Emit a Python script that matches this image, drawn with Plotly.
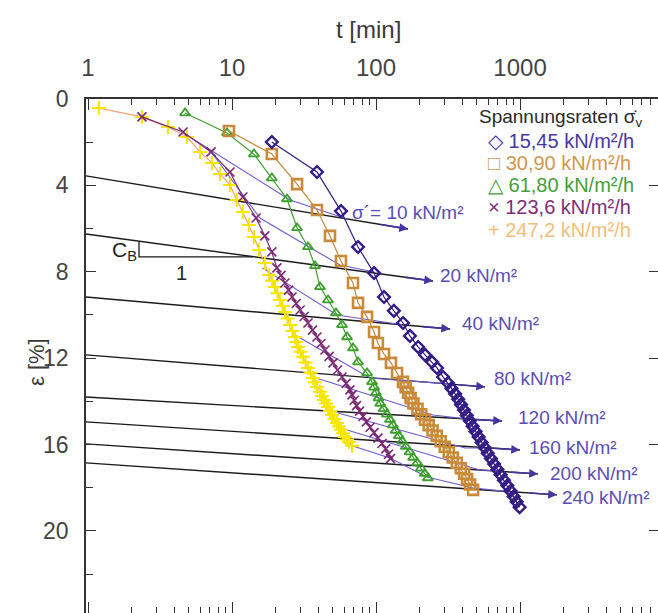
import math
import plotly.graph_objects as go

# ---------------- data ----------------
# 15,45 kN/m²/h  (diamonds)
t_1545 = [18.9, 38.9, 57.1, 75, 96.9, 113.6, 133, 154, 172, 196, 219, 245, 265, 292, 316,
          334, 354, 372, 389, 408, 427, 448, 469, 491, 516, 541, 569, 597, 628, 661, 697,
          733, 773, 815, 860, 903, 947, 993]
e_1545 = [1.99, 3.38, 5.19, 6.85, 8.06, 9.17, 9.81, 10.37, 10.97, 11.48, 11.85, 12.18, 12.45,
          12.87, 13.15, 13.4, 13.65, 13.9, 14.15, 14.4, 14.65, 14.9, 15.15, 15.4, 15.65, 15.9,
          16.15, 16.4, 16.65, 16.9, 17.15, 17.4, 17.65, 17.9, 18.15, 18.4, 18.65, 18.9]
# 30,90 kN/m²/h  (squares)
t_3090 = [9.53, 18.9, 28.3, 38.9, 47.9, 57.1, 69.2, 75, 86.6, 96.9, 103, 113.6, 127, 140, 154,
          160.6, 167, 174, 182, 194, 206, 219, 232, 247, 264, 281, 300, 320, 341, 364, 388,
          409, 429, 450, 472]
e_3090 = [1.48, 2.55, 3.94, 5.14, 6.34, 7.5, 8.52, 9.44, 10.09, 10.79, 11.3, 11.81, 12.22,
          12.69, 13.1, 13.35, 13.6, 13.85, 14.1, 14.35, 14.6, 14.85, 15.1, 15.35, 15.6, 15.85,
          16.1, 16.35, 16.6, 16.85, 17.1, 17.35, 17.6, 17.85, 18.1]
# 61,80 kN/m²/h  (triangles)
t_6180 = [4.72, 9.23, 14.2, 18.9, 24.1, 28.3, 33.7, 37.7, 40.8, 46.4, 52.7, 58.1, 62.9, 69.2,
          75, 86.6, 93.8, 97, 100, 104, 107, 113, 119, 125, 131, 137, 144, 152, 161, 171, 181,
          193, 205, 218, 229]
e_6180 = [0.65, 1.57, 2.55, 3.66, 4.63, 5.97, 6.85, 7.73, 8.7, 9.31, 9.91, 10.46, 11.02, 11.53,
          12.18, 12.69, 13.1, 13.35, 13.6, 13.85, 14.1, 14.35, 14.6, 14.85, 15.1, 15.35, 15.6,
          15.85, 16.1, 16.35, 16.6, 16.85, 17.1, 17.35, 17.55]
# 123,6 kN/m²/h  (crosses x)
t_1236 = [2.37, 4.57, 7.15, 9.68, 11.9, 14.7, 16.9, 18.9, 20.5, 21.9, 23.3, 24.7, 26.1, 27.9,
          29.7, 31.7, 33.7, 36.2, 38.9, 41.5, 44.2, 47.2, 50.3, 54.0, 58.1, 62.0, 65.9, 68.1,
          70.6, 73.2, 76.9, 81.2, 85.7, 91, 96.9, 103, 110, 117, 122, 126]
e_1236 = [0.83, 1.53, 2.45, 3.38, 4.54, 5.51, 6.34, 7.08, 7.82, 8.17, 8.52, 8.85, 9.17, 9.47,
          9.77, 10.07, 10.37, 10.7, 11.02, 11.32, 11.62, 11.92, 12.22, 12.55, 12.87, 13.17,
          13.47, 13.7, 13.95, 14.2, 14.45, 14.7, 14.95, 15.2, 15.45, 15.7, 15.95, 16.2, 16.45,
          16.65]
# 247,2 kN/m²/h  (plus)
t_2472 = [1.19, 2.37, 3.59, 4.87, 6.0, 7.26, 8.25, 9.68, 10.8, 11.9, 13.1, 14.2, 15.4, 16.9,
          18.1, 19.0, 19.9, 20.7, 21.5, 22.4, 23.3, 24.3, 25.3, 26.3, 27.4, 28.0, 28.7, 29.9,
          31.1, 32.4, 33.7, 35.1, 36.5, 37.7, 38.9, 40.8, 42.1, 43.5, 45.0, 46.4, 48.0, 49.5,
          51.5, 53.6, 55.3, 57.1, 59.0, 60.9, 62.9, 64.9, 68.1]
e_2472 = [0.42, 0.83, 1.30, 1.76, 2.45, 2.96, 3.47, 3.98, 4.68, 5.23, 5.83, 6.39, 6.99, 7.59,
          8.15, 8.42, 8.7, 9.0, 9.31, 9.58, 9.86, 10.16, 10.46, 10.74, 11.02, 11.25, 11.48,
          11.7, 11.94, 12.2, 12.45, 12.68, 12.92, 13.12, 13.33, 13.56, 13.75, 13.94, 14.1,
          14.26, 14.45, 14.63, 14.82, 15.0, 15.16, 15.32, 15.48, 15.65, 15.77, 15.88, 16.06]

# straight lines for the stress levels (black), start at the left axis
sigma_levels = [10, 20, 40, 80, 120, 160, 200, 240]
line_t_start = 0.968
line_e_start = [3.56, 6.25, 9.17, 11.85, 13.80, 14.95, 15.97, 16.85]
line_t_end = [167, 249, 327, 572, 750, 1000, 1334, 1807]
line_e_end = [6.02, 8.43, 10.65, 13.33, 14.91, 16.25, 17.36, 18.33]

# thin lines through equal stress points
iso_t = [[4.72, 25.3, 62.9],
         [7.26, 15.6, 56.2, 96.9],
         [16.2, 53.6, 152],
         [27.4, 90.8, 321],
         [36.5, 249, 422],
         [54.4, 415, 562],
         [53.6, 527, 692],
         [68.1, 125, 226, 464, 853]]
iso_e = [[1.62, 4.68, 5.56],
         [2.5, 5.51, 7.69, 8.01],
         [7.82, 10.0, 10.45],
         [10.93, 12.92, 13.19],
         [12.87, 14.63, 14.81],
         [14.54, 16.16, 16.16],
         [15.19, 17.18, 17.22],
         [16.06, 16.62, 17.5, 18.0, 18.19]]

# slope triangle C_B
tri_t = [2.26, 2.26, 14.0]
tri_e = [6.57, 7.31, 7.31]

x_ticks = [1, 10, 100, 1000]
y_ticks = [0, 4, 8, 12, 16, 20]

# ---------------- layout constants ----------------
W, H = 658, 613
ML, MT = 86, 99
XR = [-0.0139, 3.958]
YR = [23.8, 0]

def px(x):
    return (x - ML) / (W - ML)

def py(y):
    return (H - y) / (H - MT)

C_BLUE = "#341c86"
C_ORANGE = "#c98a3a"
C_GREEN = "#3c9e2c"
C_PURPLE = "#7b2873"
C_YELLOW = "#f7e600"
C_SALMON = "#f2a47a"
C_ISO = "#6a5ad0"
C_LAB = "#5b4db5"
C_ARROW = "#4634a0"
FONT = "Liberation Sans, Arial, sans-serif"

fig = go.Figure()

# black stress lines
for i, s in enumerate(sigma_levels):
    fig.add_trace(go.Scatter(x=[line_t_start, line_t_end[i]], y=[line_e_start[i], line_e_end[i]],
                             mode="lines", line=dict(color="#1a1a1a", width=1.4),
                             hoverinfo="skip", showlegend=False))
# thin blue iso lines
for tt, ee in zip(iso_t, iso_e):
    fig.add_trace(go.Scatter(x=tt, y=ee, mode="lines", line=dict(color=C_ISO, width=1.1),
                             hoverinfo="skip", showlegend=False))

series = [
    (t_2472, e_2472, C_SALMON, C_YELLOW, "cross-thin-open", 10, 2.0, "247,2"),
    (t_1236, e_1236, C_PURPLE, C_PURPLE, "x-thin-open", 9, 1.6, "123,6"),
    (t_6180, e_6180, C_GREEN, C_GREEN, "triangle-up-open", 9, 1.8, "61,80"),
    (t_3090, e_3090, C_ORANGE, C_ORANGE, "square-open", 10, 2.6, "30,90"),
    (t_1545, e_1545, C_BLUE, C_BLUE, "diamond-open", 9, 2.4, "15,45"),
]
for tt, ee, lc, mc, sym, sz, mw, name in series:
    fig.add_trace(go.Scatter(x=tt, y=ee, mode="lines+markers", name=name,
                             line=dict(color=lc, width=1.2),
                             marker=dict(symbol=sym, size=sz, color=mc, line=dict(color=mc, width=mw)),
                             showlegend=False))

# slope triangle
fig.add_trace(go.Scatter(x=tri_t, y=tri_e, mode="lines", line=dict(color="#1a1a1a", width=1.3),
                         hoverinfo="skip", showlegend=False))

# dummy trace for mirrored tick axes
fig.add_trace(go.Scatter(x=[None], y=[None], xaxis="x2", yaxis="y2", showlegend=False))

ann = []
# arrows at the end of the stress lines
for i in range(len(sigma_levels)):
    x1 = math.log10(line_t_end[i])
    x0 = math.log10(line_t_start)
    frac = 0.2 / (x1 - x0)
    ax = x1 - 0.2
    ay = line_e_end[i] - frac * (line_e_end[i] - line_e_start[i])
    ann.append(dict(x=x1, y=line_e_end[i], ax=ax, ay=ay, xref="x", yref="y", axref="x", ayref="y",
                    text="", showarrow=True, arrowhead=2, arrowsize=1.1, arrowwidth=1.6,
                    arrowcolor=C_ARROW))


def label(x, y, text, size, color, xanchor="center", angle=0):
    return dict(x=px(x), y=py(y), xref="paper", yref="paper", text=text, showarrow=False,
                xanchor=xanchor, yanchor="middle", textangle=angle,
                font=dict(family=FONT, size=size, color=color))


# stress labels (left x, centre y in px)
lab_pos = [(350, 212), (438, 275), (460, 323), (492, 378), (516, 417), (527, 447), (548, 473), (560, 497)]
for i, s in enumerate(sigma_levels):
    txt = ("σ´= %d kN/m²" % s) if i == 0 else ("%d kN/m²" % s)
    x, y = lab_pos[i]
    ann.append(label(x, y, txt, 19, C_LAB, "left"))

# legend
ann.append(label(477, 118, "Spannungsraten σ̇<sub>v</sub>", 19, "#2a2a2a", "left"))
leg = [("◇", "15,45", "#4a36a0", 141), ("□", "30,90", "#cf9850", 163), ("△", "61,80", "#45a03a", 185),
       ("×", "123,6", "#7d2c78", 207), ("+", "247,2", "#f5bd7a", 230)]
for sym, val, col, y in leg:
    ann.append(label(486, y, sym + " " + val + " kN/m²/h", 20, col, "left"))

# C_B and 1
ann.append(label(124, 251, "C<sub>B</sub>", 21, "#222"))
ann.append(label(181, 273, "1", 20, "#222"))

# axis titles
ann.append(label(368, 29, "t [min]", 24, "#3a3a3a"))
ann.append(label(36, 362, "ε [%]", 22, "#3a3a3a", "center", -90))

minor_x = [m * 10 ** d for d in range(0, 4) for m in range(2, 10)]

fig.update_layout(
    width=W, height=H,
    margin=dict(l=ML, r=0, t=MT, b=0, autoexpand=False),
    paper_bgcolor="white", plot_bgcolor="white",
    showlegend=False,
    annotations=ann,
    xaxis=dict(type="log", range=XR, side="top", showgrid=False, zeroline=False, automargin=False,
               showline=True, linecolor="#333", linewidth=1.5,
               tickvals=x_ticks, ticktext=[str(v) for v in x_ticks],
               ticks="inside", ticklen=11, tickwidth=1.3, tickcolor="#333",
               ticklabelstandoff=12,
               tickfont=dict(family=FONT, size=24, color="#444"),
               minor=dict(tickvals=minor_x, ticks="inside", ticklen=6, tickwidth=1.2, tickcolor="#333")),
    yaxis=dict(range=YR, showgrid=False, zeroline=False, automargin=False,
               showline=True, linecolor="#333", linewidth=1.5,
               tickvals=y_ticks, ticktext=[str(v) for v in y_ticks],
               ticks="inside", ticklen=10, tickwidth=1.3, tickcolor="#333",
               ticklabelstandoff=11,
               tickfont=dict(family=FONT, size=23, color="#444"),
               minor=dict(tickvals=[2, 6, 10, 14, 18, 22], ticks="inside", ticklen=7,
                          tickwidth=1.2, tickcolor="#333")),
    xaxis2=dict(type="log", range=XR, overlaying="x", side="bottom", anchor="y", showgrid=False,
                zeroline=False, showline=False, showticklabels=False, automargin=False,
                tickvals=x_ticks, ticks="inside", ticklen=11, tickwidth=1.3, tickcolor="#333",
                minor=dict(tickvals=minor_x, ticks="inside", ticklen=6, tickwidth=1.2, tickcolor="#333")),
    yaxis2=dict(range=YR, overlaying="y", side="right", anchor="x", showgrid=False, zeroline=False,
                showline=False, showticklabels=False, automargin=False,
                tickvals=y_ticks, ticks="inside", ticklen=9, tickwidth=1.3, tickcolor="#333"),
)

fig.write_html("out.html", config={"displayModeBar": False},
               post_script="document.body.style.margin='0px';")
